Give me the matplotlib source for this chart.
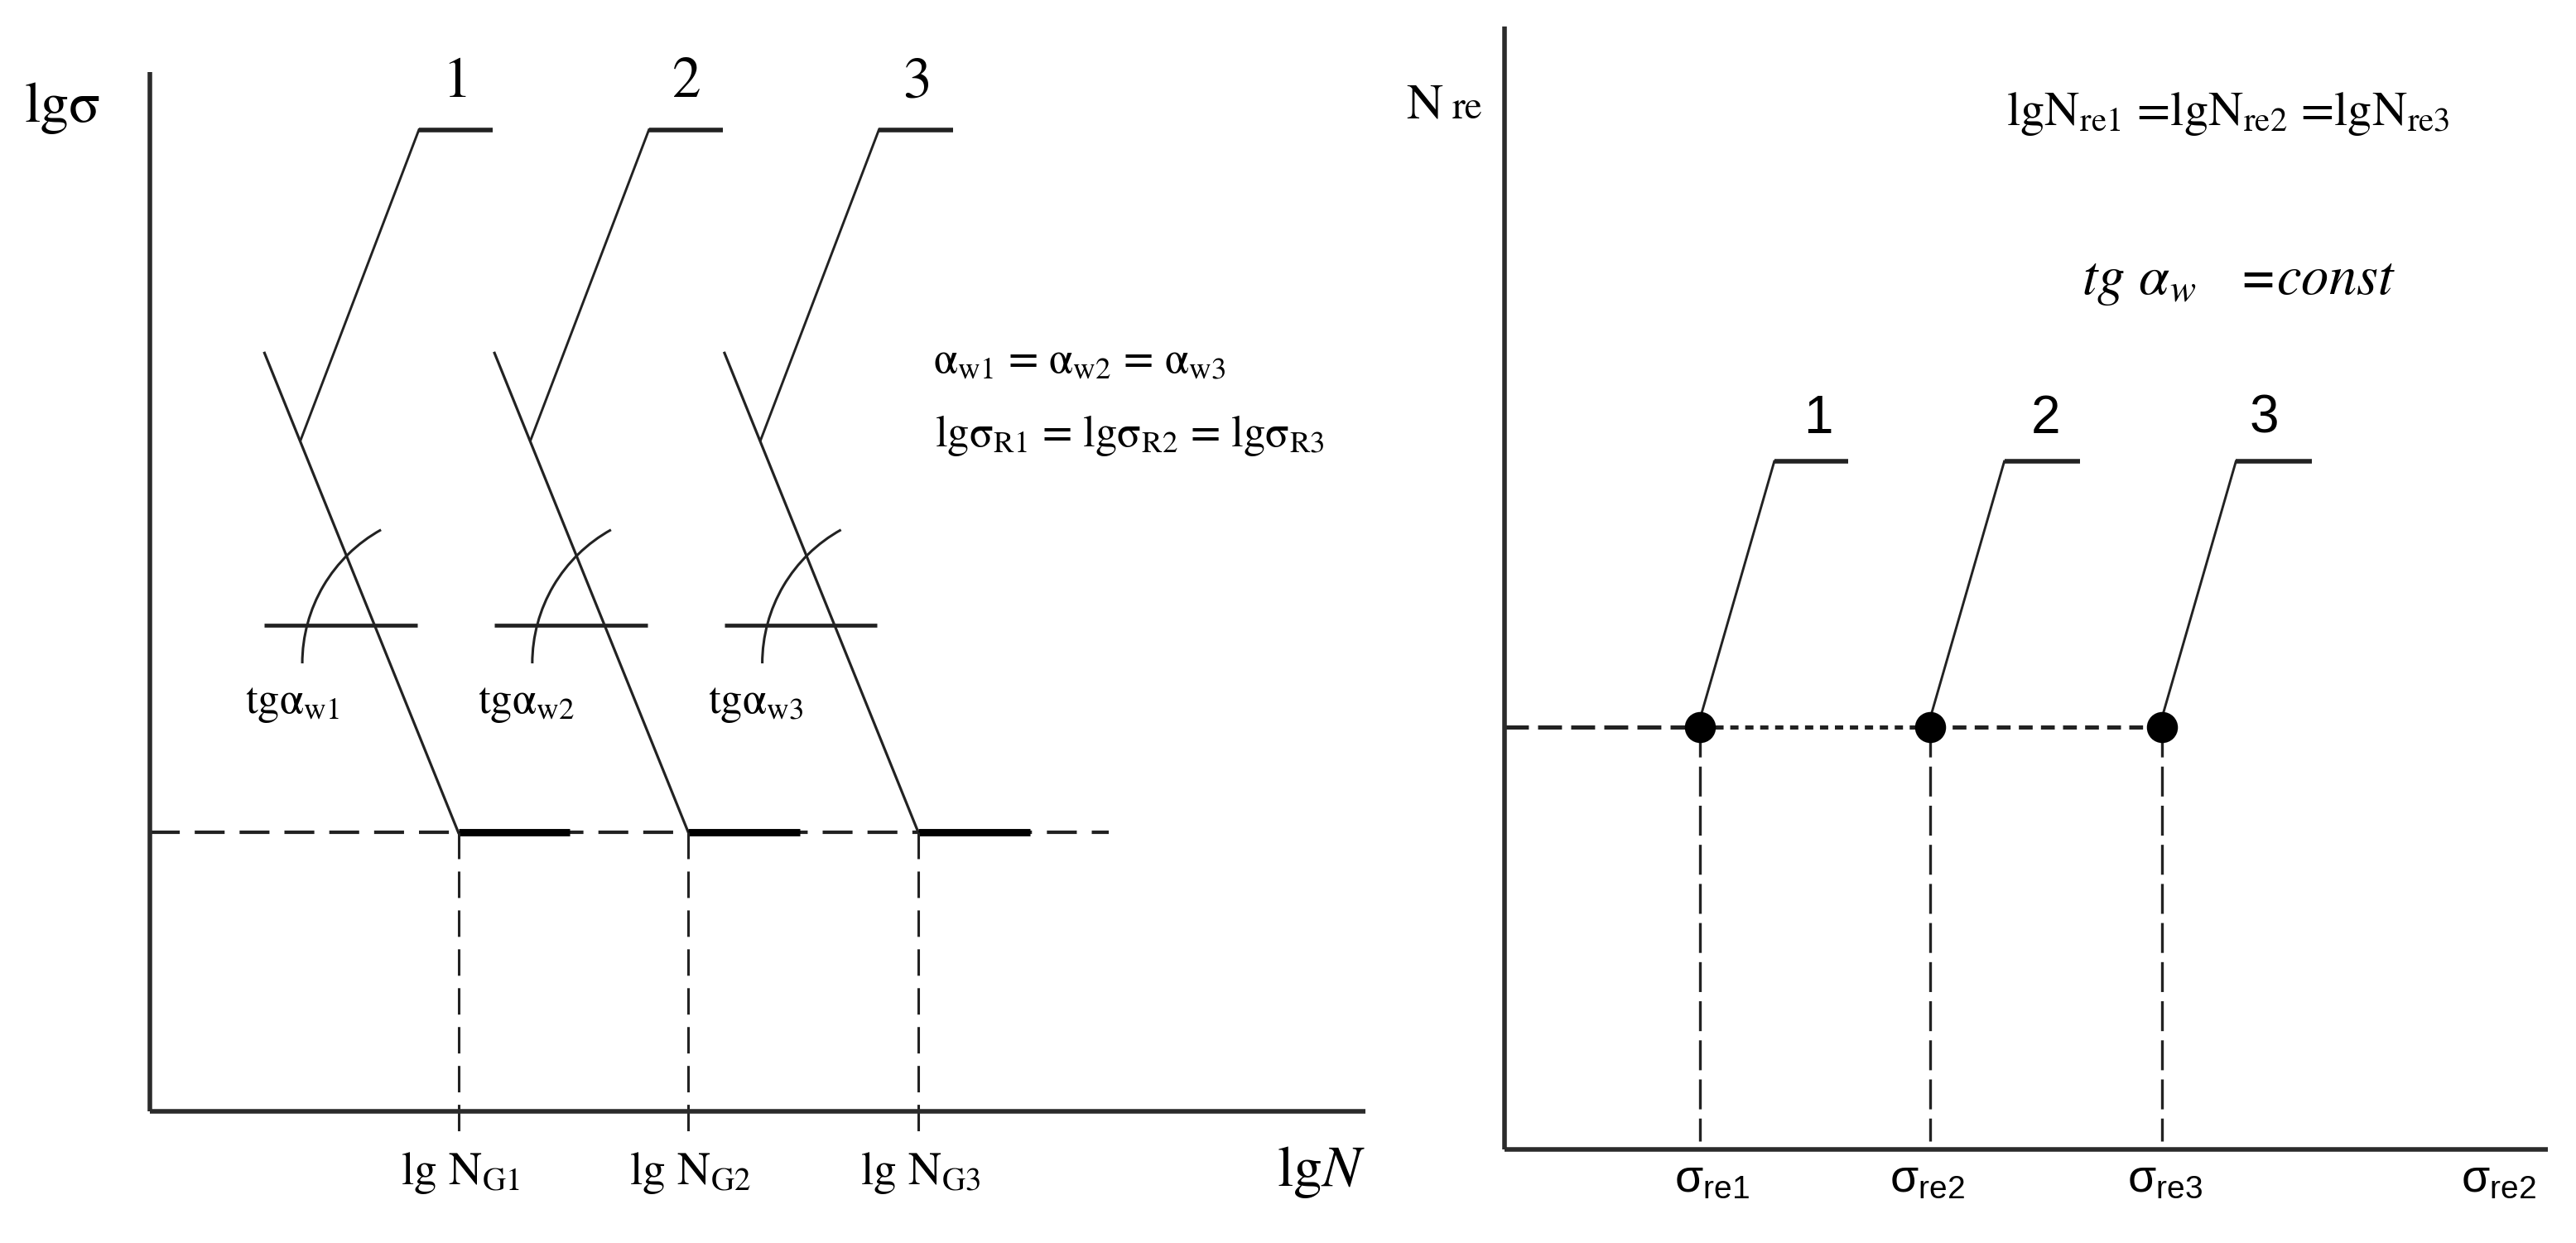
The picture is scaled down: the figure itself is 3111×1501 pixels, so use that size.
import matplotlib
matplotlib.use("Agg")
import matplotlib.pyplot as plt
from matplotlib import font_manager
from matplotlib.patches import Arc

# layout grid of the reference (1568 x 757), y measured downwards
W, H = 1568, 757

# ---------------- left panel : lg(sigma) - lg(N) ----------------
left_xlim = (91, 831)
left_ylim = (677, 44)
curve_top_x = [161, 301, 441]
curve_top_y = 215
knee_x = [279, 419, 559]          # lg N_G1, lg N_G2, lg N_G3
knee_y = 507                      # lg sigma_R level
flat_end_x = [347, 487, 627]
dash_h_end = 675
tan_y = 381
tan_x0 = [161, 301, 441]
tan_x1 = [254, 394, 534]
arc_cx = [277, 417, 557]
arc_cy = 404
arc_r = 93
lead_x0 = [183, 323, 463]
lead_y0 = 268
lead_x1 = [255, 395, 535]
lead_y1 = 79
lead_x2 = [300, 440, 580]
curve_names = ["1", "2", "3"]
name_left_x = [278, 418, 558]
name_left_y = 51
ng_labels = [r"lg N$_{\mathrm{G1}}$", r"lg N$_{\mathrm{G2}}$", r"lg N$_{\mathrm{G3}}$"]
tg_labels = [r"tgα$_{\mathrm{w1}}$", r"tgα$_{\mathrm{w2}}$", r"tgα$_{\mathrm{w3}}$"]
tg_x = [178, 320, 460]
tg_y = 434

# ---------------- right panel : N_re - sigma_re ----------------
right_xlim = (916, 1551)
right_ylim = (700, 16)
dot_x = [1035, 1175, 1316]
dot_y = 443
rlead_x1 = [1080, 1220, 1361]
rlead_y1 = 281
rlead_x2 = [1125, 1266, 1407]
name_right_x = [1107, 1245, 1378]
name_right_y = 255
sig_labels = [r"σ$_{\mathrm{re1}}$", r"σ$_{\mathrm{re2}}$", r"σ$_{\mathrm{re3}}$"]
sig_x = [1019, 1150, 1295]
sig_y = 726

INK = "#222222"
SERIF = "STIXGeneral"
names = {f.name for f in font_manager.fontManager.ttflist}
NARROW = next((n for n in ["Liberation Sans Narrow", "Liberation Sans"] if n in names),
              "DejaVu Sans")

plt.rcParams["lines.scale_dashes"] = False
plt.rcParams["mathtext.fontset"] = "stix"
plt.rcParams["mathtext.rm"] = NARROW
plt.rcParams["mathtext.it"] = NARROW + ":italic"

fig = plt.figure(figsize=(15.555, 7.505), dpi=200)


def panel(xlim, ylim):
    ax = fig.add_axes([xlim[0] / W, (H - ylim[0]) / H,
                       (xlim[1] - xlim[0]) / W, (ylim[0] - ylim[1]) / H])
    ax.set_xlim(*xlim)
    ax.set_ylim(*ylim)
    for s in ["top", "right"]:
        ax.spines[s].set_visible(False)
    for s in ["left", "bottom"]:
        ax.spines[s].set_linewidth(2.0)
        ax.spines[s].set_color("#2b2b2b")
        ax.spines[s].set_capstyle("butt")
    ax.set_xticks([])
    ax.set_yticks([])
    ax.patch.set_alpha(0)
    return ax


# ---- left
ax1 = panel(left_xlim, left_ylim)
ax1.plot([left_xlim[0], dash_h_end], [knee_y, knee_y], color=INK, lw=1.5,
         ls=(0, (13, 6.5)), clip_on=False)
for i in range(3):
    ax1.plot([curve_top_x[i], knee_x[i]], [curve_top_y, knee_y], color=INK, lw=1.15,
             clip_on=False)
    ax1.plot([knee_x[i], flat_end_x[i]], [knee_y, knee_y], color="black", lw=3.2,
             solid_capstyle="butt", clip_on=False)
    ax1.plot([knee_x[i], knee_x[i]], [knee_y, 689], color=INK, lw=1.1,
             ls=(0, (11.5, 5.4)), clip_on=False)
    ax1.plot([tan_x0[i], tan_x1[i]], [tan_y, tan_y], color=INK, lw=1.7,
             solid_capstyle="butt", clip_on=False)
    ax1.add_patch(Arc((arc_cx[i], arc_cy), 2 * arc_r, 2 * arc_r, theta1=180,
                      theta2=241, color=INK, lw=1.1, clip_on=False))
    ax1.plot([lead_x0[i], lead_x1[i]], [lead_y0, lead_y1], color=INK, lw=1.05,
             clip_on=False)
    ax1.plot([lead_x1[i], lead_x2[i]], [lead_y1, lead_y1], color=INK, lw=2.0,
             solid_capstyle="butt", clip_on=False)
    ax1.text(name_left_x[i], name_left_y, curve_names[i], family=SERIF, fontsize=25,
             ha="center", va="center")
    ax1.text(knee_x[i] + 1, 721, ng_labels[i], family=SERIF, fontsize=20,
             ha="center", va="baseline")
    ax1.text(tg_x[i], tg_y, tg_labels[i], family=SERIF, fontsize=19,
             ha="center", va="baseline")

ax1.text(15, 74, "lgσ", family=SERIF, fontsize=25, ha="left", va="baseline")
ax1.text(831, 722, r"lg$N$", family=SERIF, fontsize=25, ha="right", va="baseline")
ax1.text(568, 227, r"α$_{\mathrm{w1}}$ = α$_{\mathrm{w2}}$ = α$_{\mathrm{w3}}$",
         family=SERIF, fontsize=19, ha="left", va="baseline")
ax1.text(569, 272, r"lgσ$_{\mathrm{R1}}$ = lgσ$_{\mathrm{R2}}$ = lgσ$_{\mathrm{R3}}$",
         family=SERIF, fontsize=19, ha="left", va="baseline")

# ---- right
ax2 = panel(right_xlim, right_ylim)
ax2.plot([right_xlim[0], dot_x[0]], [dot_y, dot_y], color=INK, lw=1.8,
         ls=(0, (10.4, 4)), clip_on=False)
ax2.plot([dot_x[0], dot_x[1]], [dot_y, dot_y], color=INK, lw=1.8,
         ls=(0, (3.6, 2.9)), clip_on=False)
ax2.plot([dot_x[1], dot_x[2]], [dot_y, dot_y], color=INK, lw=1.8,
         ls=(0, (6, 3.6)), clip_on=False)
for i in range(3):
    ax2.plot([dot_x[i], dot_x[i]], [dot_y, 695], color=INK, lw=1.2,
             ls=(0, (13, 4)), clip_on=False)
    ax2.plot([dot_x[i], rlead_x1[i]], [dot_y - 6, rlead_y1], color=INK, lw=1.05,
             clip_on=False)
    ax2.plot([rlead_x1[i], rlead_x2[i]], [rlead_y1, rlead_y1], color=INK, lw=2.0,
             solid_capstyle="butt", clip_on=False)
    ax2.text(name_right_x[i], name_right_y, curve_names[i], family=NARROW,
             fontsize=23, ha="center", va="center")
    ax2.text(sig_x[i], sig_y, sig_labels[i], family=NARROW, fontsize=20,
             ha="left", va="baseline", math_fontfamily="custom")
ax2.plot(dot_x, [dot_y] * 3, "o", color="black", ms=12.5, clip_on=False)

ax2.text(1498, sig_y, r"σ$_{\mathrm{re2}}$", family=NARROW, fontsize=20,
         ha="left", va="baseline", math_fontfamily="custom")
ax2.text(1221, 76, r"lgN$_{\mathrm{re1}}$ =lgN$_{\mathrm{re2}}$ =lgN$_{\mathrm{re3}}$",
         family=SERIF, fontsize=21, ha="left", va="baseline")
ax2.text(1267, 179, r"tg α$_{w}$   =const", family=SERIF, style="italic",
         fontsize=24, ha="left", va="baseline")
ax2.text(878, 72, "N", family=SERIF, fontsize=22, ha="right", va="baseline")
ax2.text(884, 72, "re", family=SERIF, fontsize=17, ha="left", va="baseline")

fig.savefig("out.png", dpi=200)
